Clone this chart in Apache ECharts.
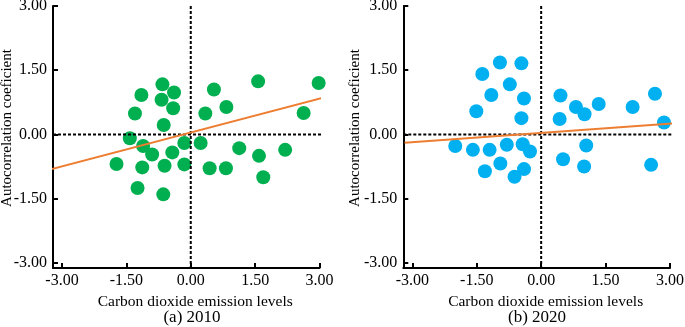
<!DOCTYPE html>
<html>
<head>
<meta charset="utf-8">
<script src="https://cdn.jsdelivr.net/npm/echarts@6/dist/echarts.min.js"></script>
<style>html,body{margin:0;padding:0;background:#fff}#c{width:685px;height:327px}</style>
</head>
<body>
<div id="c"></div>
<script>
var tickValues = [-3, -1.5, 0, 1.5, 3];
var xTitle = 'Carbon dioxide emission levels';
var yTitle = 'Autocorrelation coeficient';
var captions = ['(a) 2010', '(b) 2020'];

var x2010 = [-0.66,-0.39,-1.15,-0.68,-0.41,-1.30,-0.63,0.54,0.34,0.83,1.57,2.98,2.63,-1.42,-1.11,-0.90,-0.43,-0.15,0.23,1.13,1.59,2.20,-1.73,-1.13,-0.61,-0.15,0.44,0.82,1.69,-1.24,-0.64];
var y2010 = [1.17,0.98,0.92,0.81,0.61,0.49,0.22,1.05,0.49,0.64,1.24,1.20,0.50,-0.09,-0.27,-0.47,-0.42,-0.20,-0.20,-0.32,-0.50,-0.36,-0.69,-0.77,-0.73,-0.70,-0.79,-0.79,-1.00,-1.25,-1.40];

var x2020 = [-0.96,-0.46,-1.37,-0.73,-1.16,-0.40,-1.51,-0.46,0.45,0.81,1.01,0.43,1.34,2.13,2.65,2.86,-2.00,-1.59,-1.20,-0.80,-0.43,-0.26,1.05,-0.95,0.51,1.00,2.56,-1.31,-0.40,-0.62];
var y2020 = [1.68,1.66,1.41,1.17,0.92,0.84,0.54,0.38,0.91,0.64,0.47,0.36,0.71,0.64,0.95,0.28,-0.27,-0.36,-0.36,-0.24,-0.23,-0.40,-0.26,-0.68,-0.58,-0.75,-0.71,-0.86,-0.81,-0.99];

var fitX2010 = [-3.24, 3.16], fitY2010 = [-0.81, 0.88];
var fitX2020 = [-3.18, 3.24], fitY2020 = [-0.196, 0.27];

var xMin = -3.21, xMax = 3, yMin = -3.12, yMax = 3;
var hLineEnd = [3.18, 3.19];

function zip(a, b) { return a.map(function (v, i) { return [v, b[i]]; }); }
var FONT = 'Liberation Serif';
var fmt = function (v) { return Number(v).toFixed(2); };

var gridsPos = [
  {left: 53, top: 6, width: 266.5, height: 262, containLabel: false, outerBoundsMode: 'none'},
  {left: 403.3, top: 6, width: 266.7, height: 262, containLabel: false, outerBoundsMode: 'none'}
];
var dotColors = ['#00b050', '#00b0f0'];
var scat = [zip(x2010, y2010), zip(x2020, y2020)];
var fits = [zip(fitX2010, fitY2010), zip(fitX2020, fitY2020)];

var xAxes = [], yAxes = [], series = [], graphics = [];
[0, 1].forEach(function (i) {
  var axLine = {show: true, onZero: false, lineStyle: {color: '#000', width: 2}};
  xAxes.push({
    gridIndex: i, type: 'value', min: xMin, max: xMax,
    axisLine: axLine,
    axisTick: {show: true, inside: true, length: 5, customValues: tickValues, lineStyle: {color: '#000', width: 2}},
    axisLabel: {customValues: tickValues, formatter: fmt, color: '#000', fontFamily: FONT, fontSize: 16, margin: 5},
    splitLine: {show: false},
    name: xTitle, nameLocation: 'middle', nameGap: 24,
    nameTextStyle: {color: '#000', fontFamily: FONT, fontSize: 15.5, padding: [0, 0, 0, 18]}
  });
  yAxes.push({
    gridIndex: i, type: 'value', min: yMin, max: yMax,
    axisLine: axLine,
    axisTick: {show: true, inside: true, length: 5, customValues: tickValues, lineStyle: {color: '#000', width: 2}},
    axisLabel: {customValues: tickValues, formatter: fmt, color: '#000', fontFamily: FONT, fontSize: 16, margin: 6},
    splitLine: {show: false}
  });
  var dash = {color: '#000', width: 2, type: [3, 2]};
  series.push({type: 'line', xAxisIndex: i, yAxisIndex: i, data: [[0, yMax], [0, yMin]], showSymbol: false, clip: false, lineStyle: dash, silent: true});
  series.push({type: 'line', xAxisIndex: i, yAxisIndex: i, data: [[xMin, 0], [hLineEnd[i], 0]], showSymbol: false, clip: false, lineStyle: dash, silent: true});
  series.push({type: 'line', xAxisIndex: i, yAxisIndex: i, data: fits[i], showSymbol: false, clip: false, lineStyle: {color: '#ed7d31', width: 2}});
  series.push({type: 'scatter', xAxisIndex: i, yAxisIndex: i, data: scat[i], symbolSize: 14, itemStyle: {color: dotColors[i], opacity: 1}});
});

[[7.5, 192], [355, 537]].forEach(function (p, i) {
  graphics.push({type: 'text', x: p[0], y: 128, rotation: Math.PI / 2,
    style: {text: yTitle, fill: '#000', font: '15px "Liberation Serif"', align: 'center', verticalAlign: 'middle'}});
  graphics.push({type: 'text', x: p[1], y: 318,
    style: {text: captions[i], fill: '#000', font: '17px "Liberation Serif"', align: 'center', verticalAlign: 'middle'}});
});

var chart = echarts.init(document.getElementById('c'), null, {renderer: 'canvas'});
chart.setOption({
  animation: false,
  grid: gridsPos,
  xAxis: xAxes,
  yAxis: yAxes,
  series: series,
  graphic: graphics
});
</script>
</body>
</html>
